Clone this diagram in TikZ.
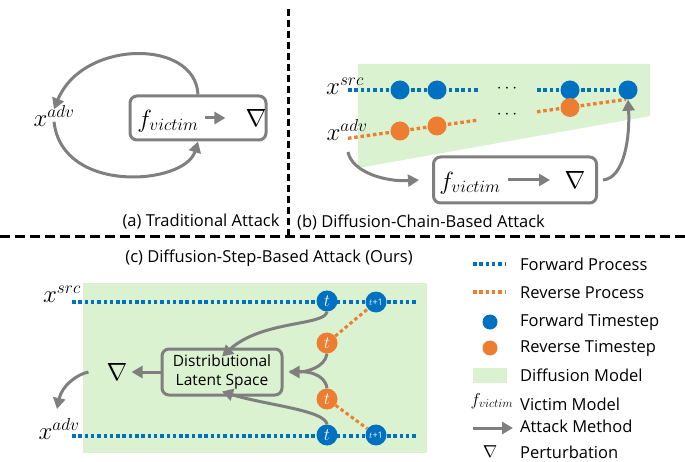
\documentclass[tikz,border=0pt]{standalone}
\usepackage{fontspec}
\setmainfont{Open Sans}
\usetikzlibrary{arrows.meta}
\definecolor{fblue}{HTML}{0070C0}
\definecolor{rorange}{HTML}{ED7D31}
\definecolor{dgreen}{HTML}{DAF2D0}
\definecolor{agray}{HTML}{7F7F7F}
\tikzset{
  fwd/.style={draw=fblue, line width=3.3pt, dash pattern=on 3.5pt off 2.8pt},
  rev/.style={draw=rorange, line width=3.3pt, dash pattern=on 3.5pt off 2.8pt},
  fdot/.style={circle, fill=fblue, minimum size=19pt, inner sep=0pt, text=white},
  rdot/.style={circle, fill=rorange, minimum size=19pt, inner sep=0pt, text=white},
  atk/.style={draw=agray, line width=3pt, -{Triangle[length=11pt,width=12pt]}},
  mbox/.style={draw=agray, line width=3pt, rounded corners=7pt, inner sep=0pt},
  lbl/.style={font=\fontsize{16.5}{19}\selectfont, inner sep=0pt},
  mathl/.style={font=\fontsize{23}{27}\selectfont, inner sep=0pt},
  tlbl/.style={font=\fontsize{17}{19}\selectfont},
  sepline/.style={draw=black, line width=3pt},
}
\begin{document}
\begin{tikzpicture}[x=1pt,y=-1pt]
\useasboundingbox (0,0) rectangle (685,462);
% separators
\draw[sepline, dash pattern=on 7pt off 4pt] (288,9) -- (288,237);
\draw[sepline, dash pattern=on 10pt off 5pt] (0,237) -- (685,237);

% ---------- panel (a)
\node[mathl] (xa) at (54,116) {$x^{adv}$};
\node[mbox, minimum width=136pt, minimum height=44pt] (boxa) at (198,118) {};
\node[mathl] (fa) at (168,121) {$f_{victim}$};
\node[mathl] (ga) at (256,118) {$\nabla$};
\draw[atk] (205,118) -- ([xshift=-20pt]ga.west);
\draw[atk] (boxa.north) .. controls (195,38) and (82,40) .. ([yshift=-4pt]xa.north);
\draw[atk] ([yshift=5pt]xa.south) .. controls (62,195) and (185,185) .. (boxa.south);
\node[lbl] (cap-a) at (201,222) {(a) Traditional Attack};

% ---------- panel (b)
\fill[dgreen] (358,64) -- (650,64) -- (650,116) -- (358,168) -- cycle;
\node[mathl] (xsb) at (345,86) {$x^{src}$};
\node[mathl] (xab) at (347,130) {$x^{adv}$};
\coordinate (bs0) at (348,90);
\coordinate (bs1) at (478,90);
\coordinate (bs2) at (537,90);
\coordinate (ro0) at (348,138.3);
\coordinate (ro1) at (478,120.1);
\coordinate (ro2) at (537,111.8);
\coordinate (ro3) at (626,99.4);
\draw[fwd] (bs0) -- (bs1);
\draw[fwd] (bs2) -- (628,90);
\draw[rev] (ro0) -- (ro1);
\draw[rev] (ro2) -- (ro3);
\node[fdot] (b1) at (400,90) {};
\node[fdot] (b2) at (437,90) {};
\node[fdot] (b3) at (570,90) {};
\node[fdot] (b4) at (628,90) {};
\node[rdot] (o1) at (400,131) {};
\node[rdot] (o2) at (437,126) {};
\node[rdot] (o3) at (570,107.5) {};
\node[lbl] (dots1) at (507,89) {$\cdots$};
\node[lbl] (dots2) at (507,115) {$\cdots$};
\node[mbox, minimum width=163pt, minimum height=46pt] (boxb) at (515,180) {};
\node[mathl] (fb) at (470,183) {$f_{victim}$};
\node[mathl] (gb) at (575,180) {$\nabla$};
\draw[atk] (508,180) -- (550,180);
\draw[atk] (348,152) .. controls (352,172) and (385,182) .. ([xshift=-13pt]boxb.west);
\draw[atk] ([xshift=5pt]boxb.east) .. controls (625,178) and (630,135) .. (b4.south);
\node[lbl, anchor=west] (cap-b) at (297,222) {(b) Diffusion-Chain-Based Attack};

% ---------- panel (c)
\node[lbl] (cap-c) at (269,258) {(c) Diffusion-Step-Based Attack (Ours)};
\fill[dgreen] (83,283) rectangle (427,453);
\node[mathl] (xsc) at (62,294) {$x^{src}$};
\node[mathl] (xac) at (59,429) {$x^{adv}$};
\coordinate (ls0) at (72,302);
\coordinate (ls1) at (417,302);
\coordinate (la0) at (72,436);
\coordinate (la1) at (417,436);
\draw[fwd] (ls0) -- (ls1);
\draw[fwd] (la0) -- (la1);
\node[fdot, minimum size=21pt] (ct) at (327,301) {};
\node[fdot, minimum size=21pt] (ct1) at (376,302) {};
\node[fdot, minimum size=21pt] (cb) at (327,435) {};
\node[fdot, minimum size=21pt] (cb1) at (376,435) {};
\node[rdot, minimum size=21pt] (ou) at (327,343) {};
\node[rdot, minimum size=21pt] (ol) at (327,399) {};
\draw[rev, line width=3pt] (ou) -- (ct1);
\draw[rev, line width=3pt] (ol) -- (cb1);
\node[tlbl, text=white] at (ct) {$t$};
\node[tlbl, text=white] at (cb) {$t$};
\node[tlbl, text=white] at (ou) {$t$};
\node[tlbl, text=white] at (ol) {$t$};
\node[font=\fontsize{9}{10}\selectfont, text=white, inner sep=0pt] at (ct1) {$t$+1};
\node[font=\fontsize{9}{10}\selectfont, text=white, inner sep=0pt] at (cb1) {$t$+1};
\node[mbox, minimum width=120pt, minimum height=46pt, align=center,
      font=\fontsize{15.5}{19}\selectfont] (dls) at (222,372) {Distributional\\Latent Space};
\node[mathl] (gc) at (117,372) {$\nabla$};
\draw[atk] (dls.west) -- ([xshift=4pt]gc.east);
\draw[atk] ([xshift=-18pt]gc.west) .. controls (78,374) and (62,385) .. (57,409);
\draw[atk] (ct.south) .. controls (325,326) and (262,320) .. ([yshift=-9pt]dls.north);
\draw[agray, line width=3pt] (ol.north) .. controls (325,373) and (305,370) .. (290,372);
\draw[atk] (ou.south) .. controls (325,368) and (305,372) .. ([xshift=5pt]dls.east);
\draw[atk] (cb.north) .. controls (325,410) and (265,405) .. ([yshift=5pt]dls.south);

% ---------- legend
\draw[fwd] (473,264) -- (505,264);
\node[lbl, anchor=west] (l1) at (520,264) {Forward Process};
\draw[rev] (473,292) -- (505,292);
\node[lbl, anchor=west] (l2) at (520,293) {Reverse Process};
\node[fdot, minimum size=15pt] (ld1) at (490,322) {};
\node[lbl, anchor=west] (l3) at (520,322) {Forward Timestep};
\node[rdot, minimum size=15pt] (ld2) at (490,348) {};
\node[lbl, anchor=west] (l4) at (520,348) {Reverse Timestep};
\fill[dgreen] (473,368) rectangle (507,383);
\node[lbl, anchor=west] (l5) at (520,375) {Diffusion Model};
\node[font=\fontsize{18}{20}\selectfont, inner sep=0pt] (lf) at (492,401) {$f_{victim}$};
\node[lbl, anchor=west] (l6) at (520,404) {Victim Model};
\coordinate (la) at (473,428);
\coordinate (lb) at (513,428);
\draw[atk] (la) -- (lb);
\node[lbl, anchor=west] (l7) at (520,426) {Attack Method};
\node[font=\fontsize{17}{19}\selectfont, inner sep=0pt] (lg) at (490,452) {$\nabla$};
\node[lbl, anchor=west] (l8) at (520,452) {Perturbation};
\end{tikzpicture}
\end{document}
